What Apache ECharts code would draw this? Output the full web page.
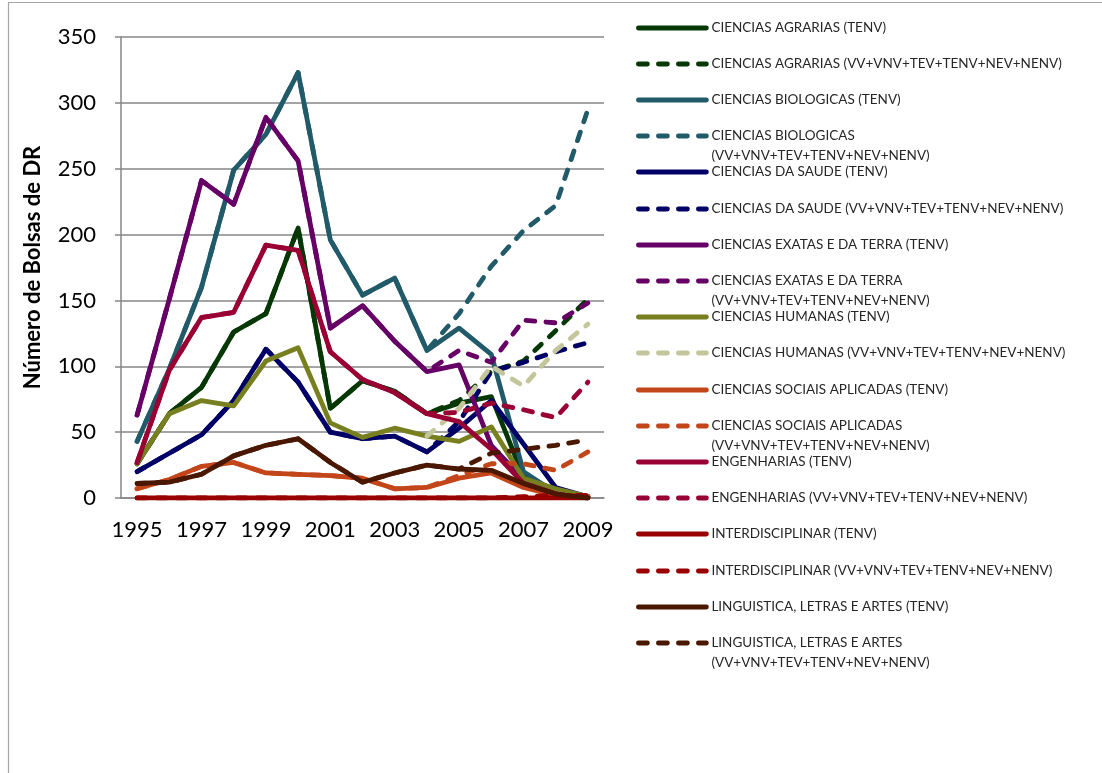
<!DOCTYPE html>
<html>
<head>
<meta charset="utf-8">
<script src="https://cdn.jsdelivr.net/npm/echarts@6/dist/echarts.min.js"></script>
<style>
html,body{margin:0;padding:0;background:#fff;}
#chart{width:1102px;height:773px;}
</style>
</head>
<body>
<div id="chart"></div>
<script>
const years = ['1995','1996','1997','1998','1999','2000','2001','2002','2003','2004','2005','2006','2007','2008','2009'];
const yTicks = [0, 50, 100, 150, 200, 250, 300, 350];

const agrariasTenv      = [26, 64, 84, 126, 140, 205, 68, 89, 81, 64, 72, 77, 16, 6, 1];
const agrariasTotal     = [26, 64, 84, 126, 140, 205, 68, 89, 81, 64, 74, 96, 104, 127, 151];
const biologicasTenv    = [43, 98, 160, 249, 276, 323, 196, 154, 167, 112, 129, 109, 20, 4, 1];
const biologicasTotal   = [43, 98, 160, 249, 276, 323, 196, 154, 167, 112, 140, 176, 203, 222, 295];
const saudeTenv         = [20, 34, 48, 74, 113, 88, 50, 45, 47, 35, 53, 74, 41, 8, 1];
const saudeTotal        = [20, 34, 48, 74, 113, 88, 50, 45, 47, 35, 58, 96, 103, 111, 118];
const exatasTenv        = [63, 151, 241, 223, 289, 256, 129, 146, 119, 96, 101, 40, 14, 5, 1];
const exatasTotal       = [63, 151, 241, 223, 289, 256, 129, 146, 119, 96, 112, 103, 135, 133, 148];
const humanasTenv       = [26, 64, 74, 70, 104, 114, 57, 46, 53, 47, 43, 54, 15, 7, 1];
const humanasTotal      = [null, null, null, null, null, null, null, null, null, 47, 68, 100, 85, 112, 132];
const sociaisTenv       = [7, 14, 24, 27, 19, 18, 17, 15, 7, 8, 15, 19, 8, 2, 1];
const sociaisTotal      = [7, 14, 24, 27, 19, 18, 17, 15, 7, 8, 17, 26, 26, 21, 35];
const engenhariasTenv   = [27, 97, 137, 141, 192, 188, 111, 90, 80, 64, 58, 37, 11, 3, 0];
const engenhariasTotal  = [27, 97, 137, 141, 192, 188, 111, 90, 80, 64, 65, 72, 67, 61, 88];
const interTenv         = [0, 0, 0, 0, 0, 0, 0, 0, 0, 0, 0, 0, 0, 0, 0];
const interTotal        = [0, 0, 0, 0, 0, 0, 0, 0, 0, 0, 0, 0, 1, 2, 2];
const linguisticaTenv   = [11, 12, 18, 32, 40, 45, 27, 12, 19, 25, 22, 21, 11, 3, 0];
const linguisticaTotal  = [11, 12, 18, 32, 40, 45, 27, 12, 19, 25, 22, 34, 37, 40, 44];

const SUM = '(VV+VNV+TEV+TENV+NEV+NENV)';
const seriesDefs = [
  ['CIENCIAS AGRARIAS (TENV)', agrariasTenv, '#053805', false, false],
  ['CIENCIAS AGRARIAS ' + SUM, agrariasTotal, '#053805', true, false],
  ['CIENCIAS BIOLOGICAS (TENV)', biologicasTenv, '#215a69', false, false],
  ['CIENCIAS BIOLOGICAS ' + SUM, biologicasTotal, '#215a69', true, true],
  ['CIENCIAS DA SAUDE (TENV)', saudeTenv, '#000066', false, false],
  ['CIENCIAS DA SAUDE ' + SUM, saudeTotal, '#000066', true, false],
  ['CIENCIAS EXATAS E DA TERRA (TENV)', exatasTenv, '#660066', false, false],
  ['CIENCIAS EXATAS E DA TERRA ' + SUM, exatasTotal, '#660066', true, true],
  ['CIENCIAS HUMANAS (TENV)', humanasTenv, '#777f1f', false, false],
  ['CIENCIAS HUMANAS ' + SUM, humanasTotal, '#c3c59b', true, false],
  ['CIENCIAS SOCIAIS APLICADAS (TENV)', sociaisTenv, '#c3461a', false, false],
  ['CIENCIAS SOCIAIS APLICADAS ' + SUM, sociaisTotal, '#c3461a', true, true],
  ['ENGENHARIAS (TENV)', engenhariasTenv, '#990033', false, false],
  ['ENGENHARIAS ' + SUM, engenhariasTotal, '#990033', true, false],
  ['INTERDISCIPLINAR (TENV)', interTenv, '#990000', false, false],
  ['INTERDISCIPLINAR ' + SUM, interTotal, '#990000', true, false],
  ['LINGUISTICA, LETRAS E ARTES (TENV)', linguisticaTenv, '#4a1700', false, false],
  ['LINGUISTICA, LETRAS E ARTES ' + SUM, linguisticaTotal, '#4a1700', true, true]
];

const FONT = 'Lato';
const LW = 4.8;
const DASH = [9, 11];
const series = seriesDefs.map(function (d) {
  return {
    name: d[0],
    type: 'line',
    data: d[1],
    symbol: 'none',
    showSymbol: false,
    silent: true,
    connectNulls: false,
    lineStyle: {
      color: d[2],
      width: LW,
      type: d[3] ? DASH : 'solid',
      cap: 'round',
      join: 'round'
    },
    itemStyle: { color: d[2] }
  };
});

const legendText = { fontFamily: FONT, fontSize: 13.5, lineHeight: 20, color: '#262626' };
const legends = seriesDefs.map(function (d, i) {
  const c = 27.5 + 36.2 * i;
  const wrapped = d[4];
  return {
    show: true,
    orient: 'vertical',
    left: 636,
    top: Math.round(c - (wrapped ? 30 : 10)),
    padding: 0,
    itemWidth: 68,
    itemHeight: 14,
    itemGap: 0,
    selectedMode: false,
    textStyle: legendText,
    itemStyle: { opacity: 0, borderWidth: 0 },
    lineStyle: { width: LW, cap: 'round', type: d[3] ? DASH : 'solid', color: d[2] },
    formatter: function (n) {
      return wrapped ? '\n' + n.replace(' (VV', '\n(VV') : n;
    },
    data: [{ name: d[0] }]
  };
});

const chart = echarts.init(document.getElementById('chart'), null, { renderer: 'canvas' });
chart.setOption({
  animation: false,
  backgroundColor: '#ffffff',
  graphic: [{
    type: 'rect',
    silent: true,
    z: -10,
    shape: { x: 8.5, y: 2.5, width: 1300, height: 1000 },
    style: { fill: 'none', stroke: '#a6a6a6', lineWidth: 1.2 }
  }],
  grid: { left: 121, right: 498, top: 37, bottom: 275, containLabel: false },
  legend: legends,
  xAxis: {
    type: 'category',
    data: years,
    boundaryGap: true,
    axisLine: { show: true, lineStyle: { color: '#868686', width: 1.5 } },
    axisTick: { show: false },
    axisLabel: { interval: 1, margin: 21, fontFamily: FONT, fontSize: 22, color: '#000' },
    splitLine: { show: false }
  },
  yAxis: {
    type: 'value',
    min: yTicks[0],
    max: yTicks[yTicks.length - 1],
    interval: 50,
    name: 'Número de Bolsas de DR',
    nameLocation: 'middle',
    nameGap: 77,
    nameTextStyle: { fontFamily: FONT, fontSize: 22, fontWeight: 'bold', color: '#000' },
    axisLine: { show: true, lineStyle: { color: '#868686', width: 1.5 } },
    axisTick: { show: true, length: 6, inside: false, lineStyle: { color: '#868686', width: 1.5 } },
    axisLabel: { margin: 25, fontFamily: FONT, fontSize: 22, color: '#000' },
    splitLine: { show: true, lineStyle: { color: '#868686', width: 1.5 } }
  },
  series: series
});
</script>
</body>
</html>
